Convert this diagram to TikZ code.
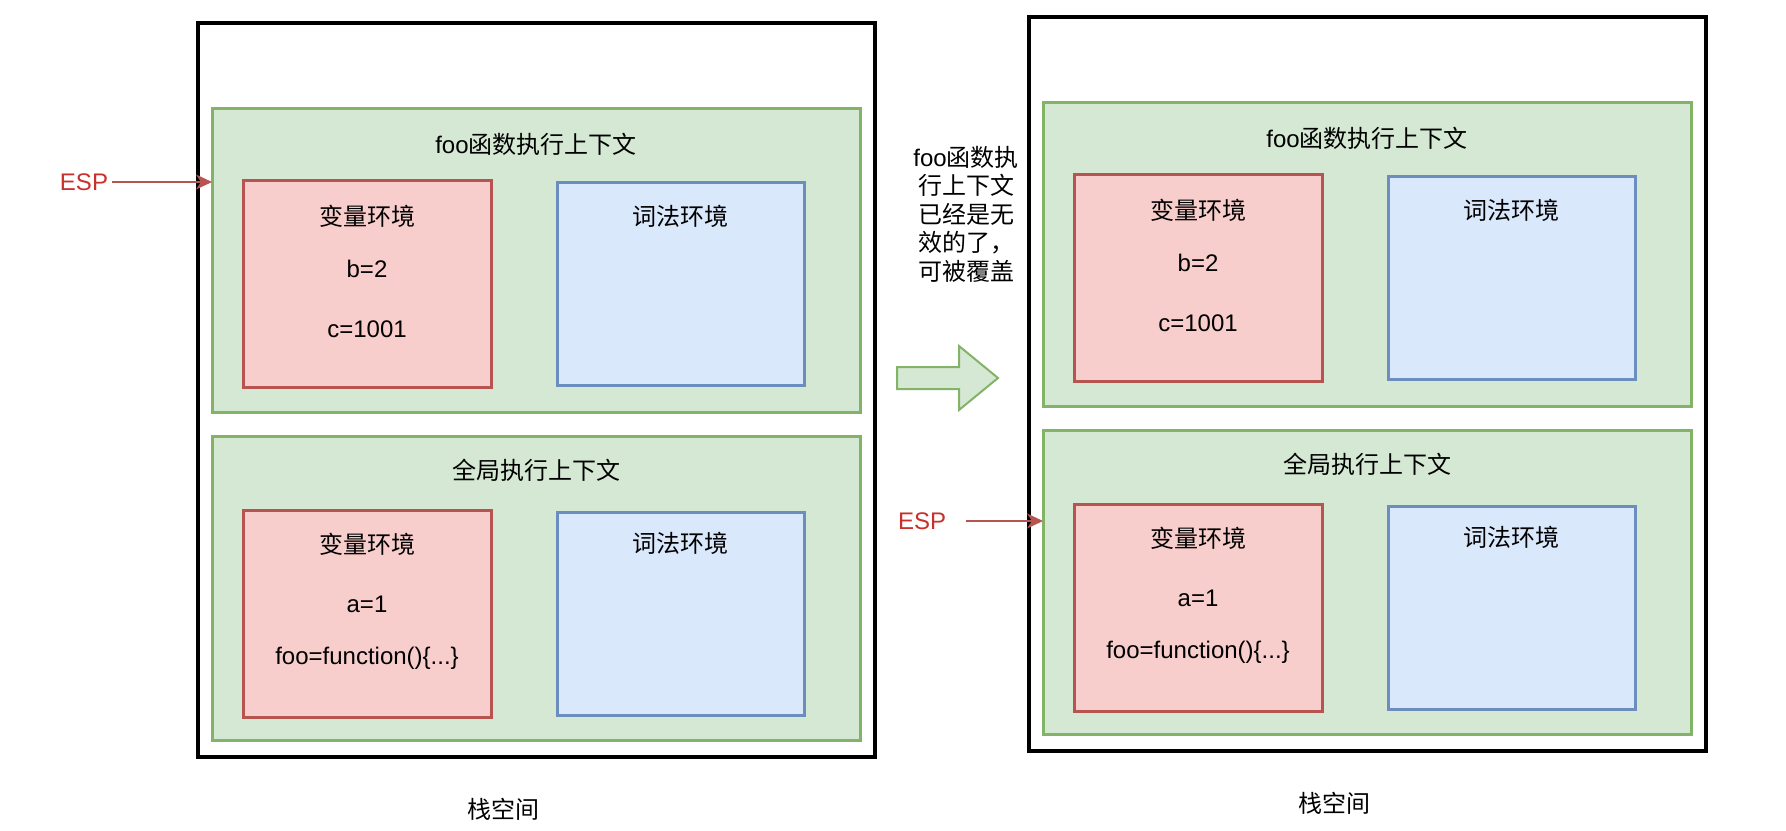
\documentclass[tikz,border=0pt]{standalone}
\usepackage{fontspec}
\setmainfont{Liberation Sans}
\newfontfamily\cjk{Noto Sans CJK SC}
\usepackage{xcolor}
\usetikzlibrary{arrows.meta}
\definecolor{ctxfill}{HTML}{D5E8D4}
\definecolor{ctxline}{HTML}{82B366}
\definecolor{varfill}{HTML}{F8CECC}
\definecolor{varline}{HTML}{B85450}
\definecolor{lexfill}{HTML}{DAE8FC}
\definecolor{lexline}{HTML}{6C8EBF}
\definecolor{esptext}{HTML}{C9302C}
\newcommand{\zh}[1]{{\cjk #1}}

\begin{document}
\begin{tikzpicture}[x=0.5pt,y=-0.5pt,font=\fontsize{12pt}{14.25pt}\selectfont,
box/.style={inner sep=0pt,outer sep=0pt,line width=1.5pt},
stackbox/.style={box,draw=black,line width=2pt,minimum width=338.5pt,minimum height=367pt},
ctxbox/.style={box,draw=ctxline,fill=ctxfill,minimum width=324pt,minimum height=152pt},
varbox/.style={box,draw=varline,fill=varfill,minimum width=124pt,minimum height=103.5pt},
lexbox/.style={box,draw=lexline,fill=lexfill,minimum width=123.5pt,minimum height=101.5pt},
esp/.style={text=esptext,inner sep=2pt},
espline/.style={draw=varline,line width=0.75pt,-{Stealth[length=8pt,width=7.5pt,inset=2.5pt]}}]
\useasboundingbox (0,0) rectangle (1786,830);
\foreach \s/\dx/\dy in {l/0/0,r/831/-6}{
\begin{scope}[shift={(\dx,\dy)}]
\node[stackbox] (\s-stack) at (536.5,390) {};
\node[ctxbox] (\s-foo) at (536,260) {};
\node[ctxbox] (\s-glob) at (536,588) {};
\node at ([yshift=-18pt]\s-foo.north) {foo\zh{函数执行上下文}};
\node at ([yshift=-17pt]\s-glob.north) {\zh{全局执行上下文}};
\node[varbox] (\s-foovar) at (367,283.5) {};
\node[lexbox] (\s-foolex) at (680.5,283.5) {};
\node[varbox] (\s-globvar) at (367,614) {};
\node[lexbox] (\s-globlex) at (680.5,614) {};
\node at ([yshift=-18pt]\s-foovar.north) {\zh{变量环境}};
\node at ([yshift=-44.5pt]\s-foovar.north) {b=2};
\node at ([yshift=-74.5pt]\s-foovar.north) {c=1001};
\node at ([yshift=-17pt]\s-foolex.north) {\zh{词法环境}};
\node at ([yshift=-17pt]\s-globvar.north) {\zh{变量环境}};
\node at ([yshift=-47pt]\s-globvar.north) {a=1};
\node at ([yshift=-74pt]\s-globvar.north) {foo=function()\{...\}};
\node at ([yshift=-15.5pt]\s-globlex.north) {\zh{词法环境}};
\node (\s-label) at (503,809) {\zh{栈空间}};
\end{scope}
}
\node[esp] (l-esp) at (84,182) {ESP};
\draw[espline] (l-esp.east) -- (l-foo.west |- l-esp.east);
\node[esp] (r-esp) at (922,521) {ESP};
\draw[espline,shorten <=8pt] (r-esp.east) -- (r-glob.west |- r-esp.east);
\draw[ctxline,fill=ctxfill,line width=1pt,line join=miter] (897,367) -- (959,367) -- (959,346) -- (998,378) -- (959,410) -- (959,389) -- (897,389) -- cycle;
\node[align=center] (note) at (966,214) {foo\zh{函数执}\\\zh{行上下文}\\\zh{已经是无}\\\zh{效的了，}\\\zh{可被覆盖}};
\end{tikzpicture}
\end{document}
